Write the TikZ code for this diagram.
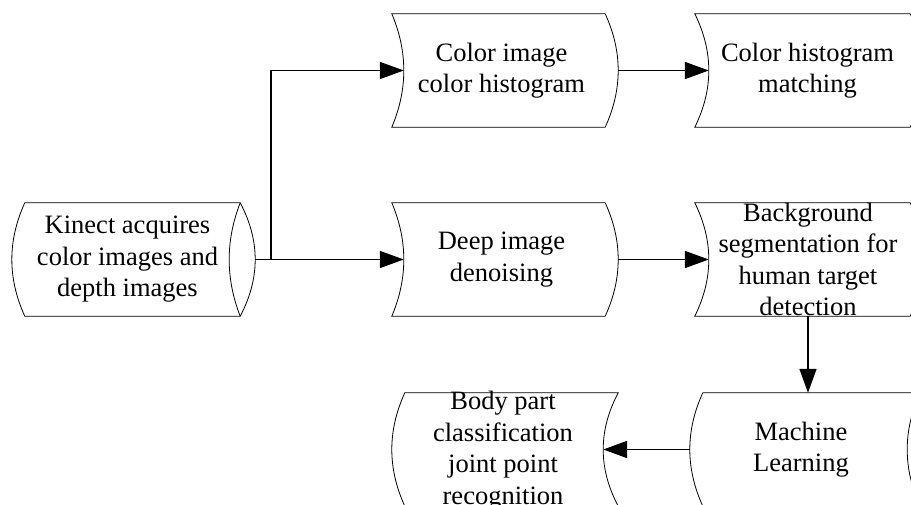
\documentclass[tikz,border=0pt]{standalone}
\usepackage{fontspec}
\setmainfont{Liberation Serif}
\usetikzlibrary{calc,arrows.meta}
\tikzset{
  x=1pt,y=1pt,
  box/.style={minimum width=213pt,minimum height=113pt,inner sep=0pt},
  txt/.style={inner sep=0pt,align=center,font=\fontsize{26.5}{31.5}\selectfont},
  outline/.style={draw=black,line width=0.8pt},
  conn/.style={line width=1.6pt,-{Triangle[length=24pt,width=17pt]}},
}
\begin{document}
\begin{tikzpicture}
\useasboundingbox (0,0) rectangle (911,504);
\begin{scope}
\clip (0,0) rectangle (911,504);
% shape nodes
\node[box,minimum width=215pt] (kin) at (132.5,244.5) {};
\node[box] (ci) at (498.5,433.5) {};
\node[box,minimum width=215pt] (chm) at (802.5,433.5) {};
\node[box] (deep) at (498.5,244.5) {};
\node[box,minimum width=215pt] (bg) at (802.5,244.5) {};
\node[box,minimum width=217pt] (ml) at (811.5,54.5) {};
\node[box] (bp) at (511.5,54.5) {};
% texts
\node[txt] (kin-t) at ($(kin)+(-5,0)$) {Kinect acquires\\color images and\\depth images};
\node[txt] (ci-t) at ($(ci)+(3,0)$) {Color image\\color histogram};
\node[txt] (chm-t) at ($(chm)+(5,0)$) {Color histogram\\matching};
\node[txt] (deep-t) at ($(deep)+(3,0)$) {Deep image\\denoising};
\node[txt] (bg-t) at ($(bg)+(5.5,0)$) {Background\\segmentation for\\human target\\detection};
\node[txt] (ml-t) at ($(ml)+(-10.5,0)$) {Machine\\Learning};
\node[txt] (bp-t) at ($(bp)+(-8.5,-1)$) {Body part\\classification\\joint point\\recognition};
% outlines: cylinder
\draw[outline] (kin.north west) .. controls ($(kin.west)+(-17.3,18.83)$) and ($(kin.west)+(-17.3,-18.83)$) .. (kin.south west)
  -- (kin.south east) .. controls ($(kin.east)+(20,-18.83)$) and ($(kin.east)+(20,18.83)$) .. (kin.north east) -- cycle;
\draw[outline] (kin.north east) .. controls ($(kin.east)+(-14.7,18.83)$) and ($(kin.east)+(-14.7,-18.83)$) .. (kin.south east);
\coordinate (kin-r) at ($(kin.east)+(15,0)$);
% outlines: ) ) and ( ( shapes
\foreach \n/\a/\b in {ci/12/13, chm/14/13, deep/12/13, bg/14/13, ml/-13/-13, bp/-13/-15}{
  \draw[outline] (\n.north west) .. controls ($(\n.west)+({4*(\a)/3},18.83)$) and ($(\n.west)+({4*(\a)/3},-18.83)$) .. (\n.south west)
    -- (\n.south east) .. controls ($(\n.east)+({4*(\b)/3},-18.83)$) and ($(\n.east)+({4*(\b)/3},18.83)$) .. (\n.north east) -- cycle;
}
\coordinate (ci-l) at ($(ci.west)+(12,0)$);
\coordinate (ci-r) at ($(ci.east)+(13,0)$);
\coordinate (chm-l) at ($(chm.west)+(14,0)$);
\coordinate (deep-l) at ($(deep.west)+(12,0)$);
\coordinate (deep-r) at ($(deep.east)+(13,0)$);
\coordinate (bg-l) at ($(bg.west)+(14,0)$);
\coordinate (ml-l) at ($(ml.west)+(-13,0)$);
\coordinate (bp-r) at ($(bp.east)+(-15,0)$);
% connectors
\coordinate (split) at ($(kin-r)+(16,0)$);
\draw[conn] (kin-r) -- (split) |- (ci-l);
\draw[conn] (kin-r) -- (deep-l);
\draw[conn] (ci-r) -- (chm-l);
\draw[conn] (deep-r) -- (bg-l);
\coordinate (down) at ($(bg.south)+(5.5,0)$);
\draw[conn] (down) -- (down |- ml.north);
\draw[conn] (ml-l) -- (bp-r);
\end{scope}
\end{tikzpicture}
\end{document}
